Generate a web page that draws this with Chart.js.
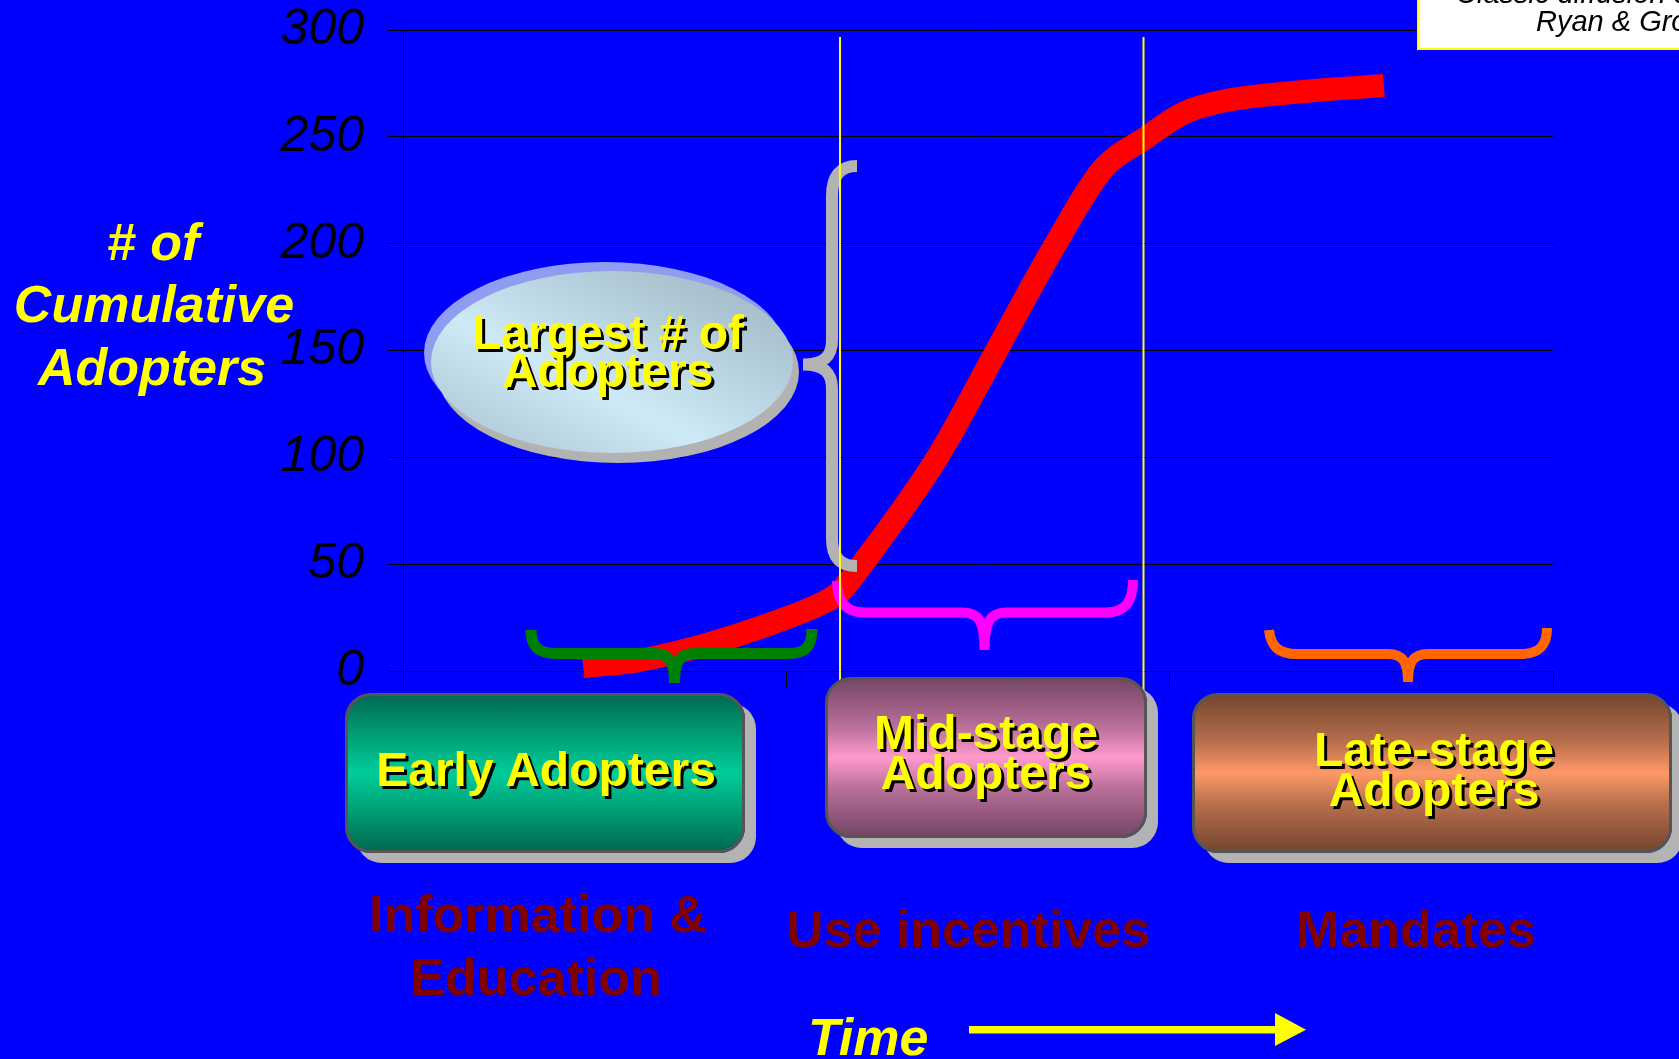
<!DOCTYPE html>
<html>
<head>
<meta charset="utf-8">
<script src="https://cdn.jsdelivr.net/npm/chart.js@4/dist/chart.umd.min.js"></script>
<style>
  html, body { margin:0; padding:0; }
  body { width:1679px; height:1059px; overflow:hidden; background:#0000ff; position:relative; font-family:'Liberation Sans', Arial, sans-serif; }
  #c { position:absolute; left:0; top:0; z-index:1; }
  #ov { position:absolute; left:0; top:0; z-index:2; }
  .box { position:absolute; box-sizing:border-box; border:3px solid #555; border-radius:26px; box-shadow:11px 10px 0 #b3b3b3; z-index:3; }
  .t { position:absolute; white-space:nowrap; z-index:5; }
</style>
</head>
<body>
<canvas id="c" width="1679" height="1059"></canvas>

<svg id="ov" width="1679" height="1059" xmlns="http://www.w3.org/2000/svg">
  <defs>
    <linearGradient id="eg" x1="1" y1="0" x2="0" y2="1">
      <stop offset="0" stop-color="#9db3bf"/>
      <stop offset="0.35" stop-color="#b7d1de"/>
      <stop offset="0.6" stop-color="#cfeaf7"/>
      <stop offset="0.85" stop-color="#b5cfdc"/>
      <stop offset="1" stop-color="#a8c0cc"/>
    </linearGradient>
  </defs>
  <!-- ellipse callout -->
  <ellipse cx="618" cy="372" rx="181" ry="91" fill="#b2b2b2"/>
  <ellipse cx="605" cy="353" rx="181" ry="91" fill="#8f9cf0"/>
  <ellipse cx="612" cy="362" rx="181" ry="91" fill="url(#eg)"/>
  <!-- braces -->
  <g fill="none" stroke-linecap="butt">
    <path stroke="#008000" stroke-width="11" d="M531,630 C531,647 539,653.5 556,653.5 L654,653.5 C669,653.5 674.5,661 674.5,683 M674.5,683 C674.5,661 680,653.5 695,653.5 L789,653.5 C805,653.5 812,647 812,629"/>
    <path stroke="#ff00ff" stroke-width="10" d="M837,581 C837,602 846,612.5 865,612.5 L963,612.5 C979,612.5 984.5,622 984.5,650 M984.5,650 C984.5,622 990,612.5 1006,612.5 L1106,612.5 C1124,612.5 1133,603 1133,580"/>
    <path stroke="#ff6600" stroke-width="10" d="M1269,630 C1271,647 1279,654 1297,654 L1388,654 C1403,654 1408,662 1408,682 M1408,682 C1408,662 1413,654 1428,654 L1520,654 C1540,654 1547,645 1547,628"/>
    <path stroke="#b3b3b3" stroke-width="12" d="M857,166 C840,166 832,176 832,196 L832,340 C832,356 825,364.5 803,364.5 M803,364.5 C825,364.5 832,373 832,389 L832,538 C832,557 840,566 857,566"/>
  </g>
  <!-- yellow dividers -->
  <line x1="840" y1="37" x2="840" y2="705" stroke="#ffff00" stroke-width="2"/>
  <line x1="1143.5" y1="37" x2="1143.5" y2="705" stroke="#ffff00" stroke-width="2"/>
  <!-- time arrow -->
  <rect x="969" y="1026" width="308" height="7.5" fill="#ffff00"/>
  <polygon points="1275,1013 1306,1029.7 1275,1046" fill="#ffff00"/>
</svg>

<div class="box" style="left:345px;top:693px;width:400px;height:160px;background:linear-gradient(#006a52 0%, #00a77c 30%, #00cc99 50%, #00a77c 70%, #006a52 100%);"></div>
<div class="box" style="left:825px;top:677px;width:322px;height:161px;background:linear-gradient(#774766 0%, #b86f98 30%, #ff99cc 50%, #b86f98 70%, #774766 100%);"></div>
<div class="box" style="left:1192px;top:693px;width:480px;height:160px;background:linear-gradient(#774730 0%, #b86f4c 30%, #ff9966 50%, #b86f4c 70%, #774730 100%);"></div>

<div style="position:absolute;left:1417px;top:-20px;width:300px;height:70px;box-sizing:border-box;background:#fff;border-left:2px solid #ffff00;border-bottom:2px solid #ffff00;z-index:3;"></div>

<script>
// ---- data ----
const timePoints = [0.470, 0.618, 0.793, 0.965, 1.096, 1.140, 1.200, 1.396, 1.547, 1.703, 1.826, 1.933, 2.035, 2.134, 2.335, 2.559];
const cumulativeAdopters = [2, 5, 12.5, 22.5, 32, 37, 50.5, 100.5, 149.5, 200, 235, 249, 261, 266.5, 271, 274];
const yTicks = [0, 50, 100, 150, 200, 250, 300];
const yTitleLines = ['# of', 'Cumulative', 'Adopters'];
const stageLabels = [['Early Adopters'], ['Mid-stage', 'Adopters'], ['Late-stage', 'Adopters']];
const policyLabels = [['Information &', 'Education'], ['Use incentives'], ['Mandates']];
const calloutLines = ['Largest # of', 'Adopters'];
const sourceLines = ['Classic diffusion curve', 'Ryan & Gross'];
const axisTitleX = 'Time';

// ---- chart ----
new Chart(document.getElementById('c'), {
  type: 'line',
  data: {
    datasets: [{
      data: timePoints.map((x, i) => ({ x, y: cumulativeAdopters[i] })),
      borderColor: '#ff0000',
      borderWidth: 23,
      pointRadius: 0,
      fill: false,
      cubicInterpolationMode: 'monotone',
      borderCapStyle: 'butt',
      borderJoinStyle: 'round',
      clip: false
    }]
  },
  options: {
    responsive: false,
    animation: false,
    devicePixelRatio: 1,
    layout: { padding: { left: 0, top: 30, right: 126, bottom: 372 } },
    plugins: { legend: { display: false }, tooltip: { enabled: false } },
    scales: {
      x: {
        type: 'linear', min: 0, max: 3,
        ticks: { stepSize: 1, display: false },
        grid: { drawOnChartArea: false, drawTicks: true, tickLength: 16, color: '#000', lineWidth: 1 },
        border: { display: false },
        afterFit(s) { s.height = 16; s.paddingLeft = 0; s.paddingRight = 0; }
      },
      y: {
        min: 0, max: 300,
        afterBuildTicks(s) { s.ticks = yTicks.map(v => ({ value: v })); },
        ticks: { color: '#000', padding: 24, font: { family: 'Liberation Sans', size: 50, style: 'italic' } },
        grid: { color: '#000', lineWidth: 1, tickLength: 15 },
        border: { color: '#000', width: 1 },
        afterFit(s) { s.width = 403; s.paddingTop = 0; s.paddingBottom = 0; }
      }
    }
  }
});

// ---- annotation text ----
function addText(txt, x, baseline, size, o) {
  const d = document.createElement('div');
  d.className = 't';
  d.textContent = txt;
  d.style.fontSize = size + 'px';
  d.style.lineHeight = size + 'px';
  d.style.fontWeight = o.bold ? 'bold' : 'normal';
  d.style.fontStyle = o.italic ? 'italic' : 'normal';
  d.style.color = o.color;
  d.style.top = (baseline - 0.8465 * size) + 'px';
  d.style.left = x + 'px';
  if (!o.left) d.style.transform = 'translateX(-50%)';
  if (o.shadow) d.style.textShadow = '3px 3px 0 #000';
  if (o.z) d.style.zIndex = o.z;
  document.body.appendChild(d);
}
const Y = '#ffff00', DR = '#800000';
addText(yTitleLines[0], 153, 260, 52, { bold: true, italic: true, color: Y });
addText(yTitleLines[1], 154, 322, 52, { bold: true, italic: true, color: Y });
addText(yTitleLines[2], 152, 385, 52, { bold: true, italic: true, color: Y });

addText(calloutLines[0], 608, 350, 48, { bold: true, color: Y, shadow: true });
addText(calloutLines[1], 608, 388, 48, { bold: true, color: Y, shadow: true });

addText(stageLabels[0][0], 546, 787, 48, { bold: true, color: Y, shadow: true });
addText(stageLabels[1][0], 986, 750, 48, { bold: true, color: Y, shadow: true });
addText(stageLabels[1][1], 986, 790, 48, { bold: true, color: Y, shadow: true });
addText(stageLabels[2][0], 1434, 767, 48, { bold: true, color: Y, shadow: true });
addText(stageLabels[2][1], 1434, 807, 48, { bold: true, color: Y, shadow: true });

addText(policyLabels[0][0], 538, 932, 52, { bold: true, color: DR });
addText(policyLabels[0][1], 536, 995, 52, { bold: true, color: DR });
addText(policyLabels[1][0], 968, 947, 52, { bold: true, color: DR });
addText(policyLabels[2][0], 1416, 947, 52, { bold: true, color: DR });

addText(axisTitleX, 808, 1055, 52, { bold: true, italic: true, color: Y, left: true });

addText(sourceLines[0], 1456, 4, 29, { italic: true, color: '#000', left: true, z: 6 });
addText(sourceLines[1], 1536, 32, 29, { italic: true, color: '#000', left: true, z: 6 });
</script>
</body>
</html>
